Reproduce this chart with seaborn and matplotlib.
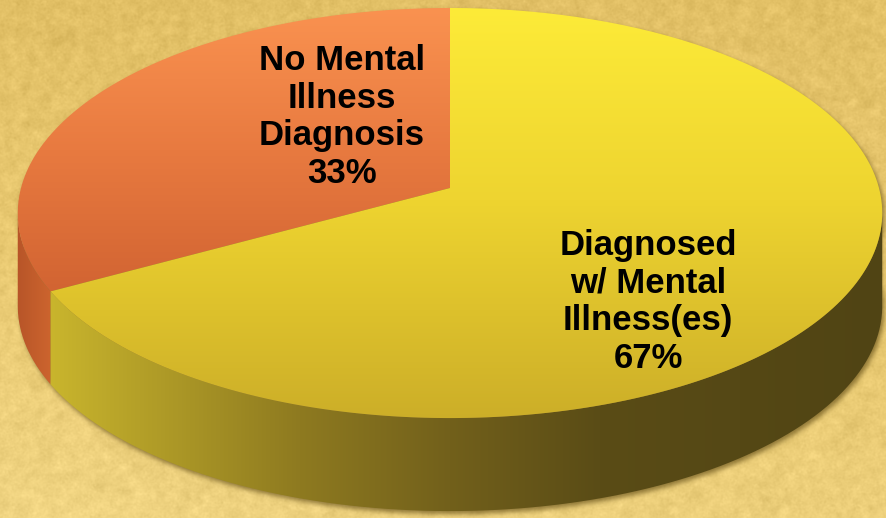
import numpy as np
import matplotlib
matplotlib.use("Agg")
import matplotlib.pyplot as plt
import seaborn as sns
from matplotlib.path import Path
from matplotlib.patches import PathPatch

# --- data -----------------------------------------------------------------
categories = ["No Mental\nIllness\nDiagnosis", "Diagnosed\nw/ Mental\nIllness(es)"]
shares = [33, 67]

# --- style ----------------------------------------------------------------
sns.set_style("white")
plt.rcParams["font.family"] = ["Liberation Sans", "DejaVu Sans"]

W, H = 887, 518
fig = plt.figure(figsize=(W / 100, H / 100), dpi=100)
ax = fig.add_axes([0, 0, 1, 1])
ax.set_xlim(0, W)
ax.set_ylim(H, 0)
ax.axis("off")

yy, xx = np.mgrid[0:H, 0:W] + 0.5
EXT = (0, W, H, 0)


def blur(a, s):
    r = int(3 * s)
    k = np.exp(-0.5 * (np.arange(-r, r + 1) / s) ** 2)
    k /= k.sum()
    out = np.apply_along_axis(lambda v: np.convolve(v, k, mode="same"), 0, a)
    return np.apply_along_axis(lambda v: np.convolve(v, k, mode="same"), 1, out)


def ramp(coord, stops):
    pos = [p for p, _ in stops]
    img = np.zeros(coord.shape + (3,))
    for c in range(3):
        img[..., c] = np.interp(coord, pos, [col[c] for _, col in stops])
    return img / 255.0


# --- parchment backdrop -----------------------------------------------------
t_bg = yy / H * 0.75 + (1 - xx / W) * 0.25 * (yy / H)
bg = ramp(t_bg, [(0.0, (226, 192, 102)), (0.45, (232, 200, 112)), (1.0, (240, 212, 130))])
rng = np.random.default_rng(7)
grain = blur(rng.normal(0, 1, (H, W)), 3) * 0.12 + blur(rng.normal(0, 1, (H, W)), 0.8) * 0.025
bg = np.clip(bg + grain[..., None], 0, 1)
ax.imshow(bg, extent=EXT, origin="upper", zorder=0, interpolation="bilinear")

# --- projection of the pie disc ---------------------------------------------
CX, CY = 450.0, 188.0
A, B, K = 429.0, 202.0, 0.122
DEPTH = 93.0


def proj(t_deg, dy=0.0):
    t = np.radians(t_deg)
    u, v = np.cos(t), np.sin(t)
    w = 1 + K * v
    return CX + A * u / w, CY - B * v / w + dy


def arc(a, b, dy=0.0, n=200):
    x, y = proj(np.linspace(a, b, n), dy)
    return np.column_stack([x, y])


def fill_clipped(img, verts, z):
    patch = PathPatch(Path(verts), facecolor="none", edgecolor="none")
    ax.add_patch(patch)
    im = ax.imshow(img, extent=EXT, origin="upper", zorder=z, interpolation="bilinear")
    im.set_clip_path(patch)


# wedge angles from the data
total = float(sum(shares))
edges = 90 + 360 * np.concatenate([[0], np.cumsum(shares)]) / total

# --- thin soft shadow round the disc -------------------------------------------
full_top = arc(0, 360, 0)
full_bot = arc(0, 360, DEPTH)
pts = np.column_stack([xx.ravel(), yy.ravel()])
mask = (Path(full_top).contains_points(pts) | Path(full_bot).contains_points(pts)).reshape(H, W)
band = np.vstack([arc(180, 360, 0), arc(360, 180, DEPTH)])
mask |= Path(band).contains_points(pts).reshape(H, W)
m = np.roll(np.roll(mask.astype(float), 3, axis=0), 2, axis=1)
sh = blur(m, 2.5)
shadow = np.zeros((H, W, 4))
shadow[..., 0], shadow[..., 1], shadow[..., 2] = 0.40, 0.32, 0.10
shadow[..., 3] = np.clip(sh * 0.7, 0, 1)
ax.imshow(shadow, extent=EXT, origin="upper", zorder=1, interpolation="bilinear")

# --- side walls --------------------------------------------------------------
side_stops = [
    [(15, (182, 84, 40)), (50, (204, 100, 46)), (120, (204, 100, 46))],
    [(30, (206, 186, 46)), (300, (142, 122, 32)), (450, (114, 96, 27)),
     (600, (90, 76, 22)), (880, (80, 68, 20))],
]
top_stops = [
    [(8, (250, 146, 80)), (150, (232, 122, 64)), (290, (210, 100, 50))],
    [(8, (253, 235, 56)), (200, (238, 212, 48)), (420, (204, 174, 40))],
]

lo = 180 + np.degrees(np.arcsin(K))
hi = 360 - np.degrees(np.arcsin(K))
for i in range(len(shares)):
    a, b = edges[i], edges[i + 1]
    for off in (0, 360):
        s0, s1 = max(a, lo + off), min(b, hi + off)
        if s1 > s0:
            verts = np.vstack([arc(s0, s1, 0), arc(s1, s0, DEPTH)])
            fill_clipped(ramp(xx, side_stops[i]), verts, 2)

# --- top faces ----------------------------------------------------------------
for i in range(len(shares)):
    a, b = edges[i], edges[i + 1]
    verts = np.vstack([[[CX, CY]], arc(a, b, 0)])
    fill_clipped(ramp(yy, top_stops[i]), verts, 3)

# --- labels ---------------------------------------------------------------------
label_pos = [(342, 117), (648, 302)]
for (lx, ly), name, val in zip(label_pos, categories, shares):
    ax.text(lx, ly, f"{name}\n{val}%", ha="center", va="center", fontsize=25,
            fontweight="bold", color="black", linespacing=1.18, zorder=5)

fig.savefig("out.png", dpi=100)
